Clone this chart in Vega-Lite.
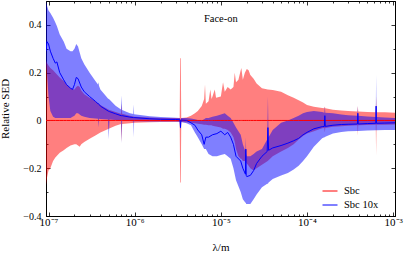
{
"$schema": "https://vega.github.io/schema/vega-lite/v6.json",
"width": 349, "height": 215,
"autosize": {"type": "none"},
"padding": {"left": 46, "top": 1, "right": 12, "bottom": 38},
"config": {
  "view": {"stroke": "black", "strokeWidth": 1},
  "font": "Liberation Serif",
  "axis": {"grid": false, "domainColor": "black", "domainWidth": 1, "tickColor": "black", "tickWidth": 0.8,
           "labelFont": "Liberation Serif", "labelFontSize": 10, "labelColor": "black",
           "titleFont": "Liberation Serif", "titleFontSize": 11, "titleFontWeight": "normal", "titleColor": "black"}
},
"datasets": {
"sed": [
{"s":"Sbc","x":9.35e-8,"lo":-0.27,"m":0,"hi":0.25},
{"s":"Sbc","x":9.6e-8,"lo":-0.24,"m":0,"hi":0.24},
{"s":"Sbc","x":1e-7,"lo":-0.21,"m":0,"hi":0.23},
{"s":"Sbc","x":1.05e-7,"lo":-0.2,"m":0,"hi":0.22},
{"s":"Sbc","x":1.13e-7,"lo":-0.17,"m":0,"hi":0.21},
{"s":"Sbc","x":1.2e-7,"lo":-0.155,"m":0,"hi":0.2},
{"s":"Sbc","x":1.35e-7,"lo":-0.135,"m":0,"hi":0.18},
{"s":"Sbc","x":1.5e-7,"lo":-0.125,"m":0,"hi":0.165},
{"s":"Sbc","x":1.62e-7,"lo":-0.115,"m":0,"hi":0.15},
{"s":"Sbc","x":1.8e-7,"lo":-0.105,"m":0,"hi":0.135},
{"s":"Sbc","x":2e-7,"lo":-0.1,"m":0,"hi":0.13},
{"s":"Sbc","x":2.1e-7,"lo":-0.1,"m":0,"hi":0.14},
{"s":"Sbc","x":2.2e-7,"lo":-0.105,"m":0,"hi":0.145},
{"s":"Sbc","x":2.3e-7,"lo":-0.11,"m":0,"hi":0.14},
{"s":"Sbc","x":2.4e-7,"lo":-0.1,"m":0,"hi":0.125},
{"s":"Sbc","x":2.6e-7,"lo":-0.09,"m":0,"hi":0.11},
{"s":"Sbc","x":3e-7,"lo":-0.077,"m":0,"hi":0.095},
{"s":"Sbc","x":3.5e-7,"lo":-0.063,"m":0,"hi":0.08},
{"s":"Sbc","x":4e-7,"lo":-0.05,"m":0,"hi":0.065},
{"s":"Sbc","x":5e-7,"lo":-0.035,"m":0,"hi":0.045},
{"s":"Sbc","x":6e-7,"lo":-0.022,"m":0,"hi":0.035},
{"s":"Sbc","x":6.95e-7,"lo":-0.015,"m":0,"hi":0.028},
{"s":"Sbc","x":7.05e-7,"lo":-0.09,"m":0,"hi":0.07},
{"s":"Sbc","x":7.15e-7,"lo":-0.015,"m":0,"hi":0.028},
{"s":"Sbc","x":8.8e-7,"lo":-0.012,"m":0,"hi":0.02},
{"s":"Sbc","x":1e-6,"lo":-0.01,"m":0,"hi":0.015},
{"s":"Sbc","x":1.5e-6,"lo":-0.008,"m":0,"hi":0.012},
{"s":"Sbc","x":2e-6,"lo":-0.007,"m":0,"hi":0.01},
{"s":"Sbc","x":3e-6,"lo":-0.006,"m":0,"hi":0.01},
{"s":"Sbc","x":3.33e-6,"lo":-0.006,"m":0,"hi":0.01},
{"s":"Sbc","x":3.37e-6,"lo":-0.26,"m":0,"hi":0.26},
{"s":"Sbc","x":3.43e-6,"lo":-0.26,"m":0,"hi":0.26},
{"s":"Sbc","x":3.47e-6,"lo":-0.006,"m":0,"hi":0.01},
{"s":"Sbc","x":4e-6,"lo":-0.008,"m":0,"hi":0.012},
{"s":"Sbc","x":4.5e-6,"lo":-0.01,"m":0,"hi":0.02},
{"s":"Sbc","x":5e-6,"lo":-0.012,"m":0,"hi":0.03},
{"s":"Sbc","x":5.4e-6,"lo":-0.014,"m":0,"hi":0.04},
{"s":"Sbc","x":6e-6,"lo":-0.016,"m":0,"hi":0.06},
{"s":"Sbc","x":6.4e-6,"lo":-0.018,"m":0,"hi":0.09},
{"s":"Sbc","x":6.55e-6,"lo":-0.018,"m":0,"hi":0.15},
{"s":"Sbc","x":6.7e-6,"lo":-0.018,"m":0,"hi":0.07},
{"s":"Sbc","x":7.2e-6,"lo":-0.02,"m":0,"hi":0.08},
{"s":"Sbc","x":7.55e-6,"lo":-0.02,"m":0,"hi":0.13},
{"s":"Sbc","x":7.8e-6,"lo":-0.02,"m":0,"hi":0.09},
{"s":"Sbc","x":8e-6,"lo":-0.022,"m":0,"hi":0.1},
{"s":"Sbc","x":8.5e-6,"lo":-0.024,"m":0,"hi":0.13},
{"s":"Sbc","x":8.8e-6,"lo":-0.025,"m":0,"hi":0.095},
{"s":"Sbc","x":1e-5,"lo":-0.03,"m":0,"hi":0.1},
{"s":"Sbc","x":1.06e-5,"lo":-0.035,"m":0,"hi":0.16},
{"s":"Sbc","x":1.11e-5,"lo":-0.035,"m":0,"hi":0.12},
{"s":"Sbc","x":1.2e-5,"lo":-0.04,"m":0,"hi":0.14},
{"s":"Sbc","x":1.3e-5,"lo":-0.05,"m":0,"hi":0.13},
{"s":"Sbc","x":1.4e-5,"lo":-0.07,"m":0,"hi":0.14},
{"s":"Sbc","x":1.45e-5,"lo":-0.09,"m":0,"hi":0.2},
{"s":"Sbc","x":1.5e-5,"lo":-0.12,"m":0,"hi":0.16},
{"s":"Sbc","x":1.6e-5,"lo":-0.15,"m":0,"hi":0.17},
{"s":"Sbc","x":1.7e-5,"lo":-0.16,"m":0,"hi":0.21},
{"s":"Sbc","x":1.73e-5,"lo":-0.16,"m":0,"hi":0.22},
{"s":"Sbc","x":1.8e-5,"lo":-0.17,"m":0,"hi":0.17},
{"s":"Sbc","x":1.9e-5,"lo":-0.17,"m":0,"hi":0.2},
{"s":"Sbc","x":2e-5,"lo":-0.18,"m":0,"hi":0.215},
{"s":"Sbc","x":2.1e-5,"lo":-0.19,"m":0,"hi":0.21},
{"s":"Sbc","x":2.2e-5,"lo":-0.2,"m":0,"hi":0.19},
{"s":"Sbc","x":2.4e-5,"lo":-0.21,"m":0,"hi":0.175},
{"s":"Sbc","x":2.6e-5,"lo":-0.2,"m":0,"hi":0.155},
{"s":"Sbc","x":3e-5,"lo":-0.185,"m":0,"hi":0.135},
{"s":"Sbc","x":3.5e-5,"lo":-0.17,"m":0,"hi":0.13},
{"s":"Sbc","x":4e-5,"lo":-0.15,"m":0,"hi":0.127},
{"s":"Sbc","x":5e-5,"lo":-0.13,"m":0,"hi":0.12},
{"s":"Sbc","x":6e-5,"lo":-0.115,"m":0,"hi":0.105},
{"s":"Sbc","x":7e-5,"lo":-0.1,"m":0,"hi":0.095},
{"s":"Sbc","x":8e-5,"lo":-0.08,"m":0,"hi":0.085},
{"s":"Sbc","x":9e-5,"lo":-0.065,"m":0,"hi":0.075},
{"s":"Sbc","x":1e-4,"lo":-0.055,"m":0,"hi":0.065},
{"s":"Sbc","x":1.2e-4,"lo":-0.045,"m":0,"hi":0.057},
{"s":"Sbc","x":1.5e-4,"lo":-0.033,"m":0,"hi":0.052},
{"s":"Sbc","x":1.59e-4,"lo":-0.032,"m":0,"hi":0.051},
{"s":"Sbc","x":1.61e-4,"lo":-0.05,"m":0,"hi":0.058},
{"s":"Sbc","x":1.63e-4,"lo":-0.032,"m":0,"hi":0.051},
{"s":"Sbc","x":2e-4,"lo":-0.026,"m":0,"hi":0.045},
{"s":"Sbc","x":2.5e-4,"lo":-0.024,"m":0,"hi":0.042},
{"s":"Sbc","x":3e-4,"lo":-0.022,"m":0,"hi":0.04},
{"s":"Sbc","x":3.85e-4,"lo":-0.02,"m":0,"hi":0.037},
{"s":"Sbc","x":3.89e-4,"lo":-0.063,"m":0,"hi":0.06},
{"s":"Sbc","x":3.93e-4,"lo":-0.02,"m":0,"hi":0.037},
{"s":"Sbc","x":5e-4,"lo":-0.019,"m":0,"hi":0.035},
{"s":"Sbc","x":6.28e-4,"lo":-0.018,"m":0,"hi":0.034},
{"s":"Sbc","x":6.34e-4,"lo":-0.145,"m":0,"hi":0.1},
{"s":"Sbc","x":6.4e-4,"lo":-0.018,"m":0,"hi":0.034},
{"s":"Sbc","x":8e-4,"lo":-0.018,"m":0,"hi":0.034},
{"s":"Sbc","x":1.05e-3,"lo":-0.017,"m":0,"hi":0.032},
{"s":"Sbc 10x","x":9.35e-8,"lo":0.24,"m":0.29,"hi":0.5},
{"s":"Sbc 10x","x":9.6e-8,"lo":0.2,"m":0.33,"hi":0.48},
{"s":"Sbc 10x","x":1e-7,"lo":0.1,"m":0.32,"hi":0.46},
{"s":"Sbc 10x","x":1.05e-7,"lo":0.04,"m":0.29,"hi":0.45},
{"s":"Sbc 10x","x":1.13e-7,"lo":0.015,"m":0.26,"hi":0.43},
{"s":"Sbc 10x","x":1.2e-7,"lo":0.01,"m":0.24,"hi":0.41},
{"s":"Sbc 10x","x":1.25e-7,"lo":0.01,"m":0.245,"hi":0.395},
{"s":"Sbc 10x","x":1.35e-7,"lo":0.01,"m":0.2,"hi":0.36},
{"s":"Sbc 10x","x":1.5e-7,"lo":0.01,"m":0.17,"hi":0.33},
{"s":"Sbc 10x","x":1.62e-7,"lo":0.01,"m":0.15,"hi":0.3},
{"s":"Sbc 10x","x":1.8e-7,"lo":0.01,"m":0.135,"hi":0.29},
{"s":"Sbc 10x","x":1.9e-7,"lo":0.015,"m":0.13,"hi":0.29},
{"s":"Sbc 10x","x":2e-7,"lo":0.02,"m":0.15,"hi":0.3},
{"s":"Sbc 10x","x":2.1e-7,"lo":0.03,"m":0.18,"hi":0.32},
{"s":"Sbc 10x","x":2.2e-7,"lo":0.03,"m":0.175,"hi":0.31},
{"s":"Sbc 10x","x":2.4e-7,"lo":0.02,"m":0.14,"hi":0.26},
{"s":"Sbc 10x","x":2.6e-7,"lo":0.015,"m":0.12,"hi":0.235},
{"s":"Sbc 10x","x":3e-7,"lo":0.01,"m":0.1,"hi":0.2},
{"s":"Sbc 10x","x":3.5e-7,"lo":0.008,"m":0.08,"hi":0.165},
{"s":"Sbc 10x","x":3.75e-7,"lo":0.007,"m":0.07,"hi":0.15},
{"s":"Sbc 10x","x":3.8e-7,"lo":-0.03,"m":0.07,"hi":0.16},
{"s":"Sbc 10x","x":3.85e-7,"lo":0.007,"m":0.068,"hi":0.145},
{"s":"Sbc 10x","x":4e-7,"lo":0.006,"m":0.06,"hi":0.13},
{"s":"Sbc 10x","x":4.9e-7,"lo":0.004,"m":0.04,"hi":0.092},
{"s":"Sbc 10x","x":5e-7,"lo":-0.08,"m":0.038,"hi":0.09},
{"s":"Sbc 10x","x":5.1e-7,"lo":0.004,"m":0.037,"hi":0.088},
{"s":"Sbc 10x","x":6e-7,"lo":0.002,"m":0.028,"hi":0.062},
{"s":"Sbc 10x","x":6.95e-7,"lo":0,"m":0.02,"hi":0.046},
{"s":"Sbc 10x","x":7.05e-7,"lo":-0.095,"m":0.02,"hi":0.104},
{"s":"Sbc 10x","x":7.15e-7,"lo":0,"m":0.02,"hi":0.044},
{"s":"Sbc 10x","x":8.8e-7,"lo":-0.002,"m":0.014,"hi":0.03},
{"s":"Sbc 10x","x":9.65e-7,"lo":-0.003,"m":0.012,"hi":0.027},
{"s":"Sbc 10x","x":9.75e-7,"lo":-0.07,"m":0.012,"hi":0.067},
{"s":"Sbc 10x","x":9.85e-7,"lo":-0.003,"m":0.012,"hi":0.026},
{"s":"Sbc 10x","x":1.5e-6,"lo":-0.004,"m":0.007,"hi":0.018},
{"s":"Sbc 10x","x":2e-6,"lo":-0.004,"m":0.005,"hi":0.014},
{"s":"Sbc 10x","x":3e-6,"lo":-0.004,"m":0.004,"hi":0.011},
{"s":"Sbc 10x","x":3.35e-6,"lo":-0.005,"m":0.003,"hi":0.01},
{"s":"Sbc 10x","x":3.4e-6,"lo":-0.04,"m":-0.03,"hi":0.0},
{"s":"Sbc 10x","x":3.45e-6,"lo":-0.006,"m":0.002,"hi":0.01},
{"s":"Sbc 10x","x":4e-6,"lo":-0.012,"m":0.0,"hi":0.01},
{"s":"Sbc 10x","x":4.5e-6,"lo":-0.02,"m":-0.01,"hi":0.008},
{"s":"Sbc 10x","x":5e-6,"lo":-0.05,"m":-0.02,"hi":0.005},
{"s":"Sbc 10x","x":5.4e-6,"lo":-0.07,"m":-0.04,"hi":0.002},
{"s":"Sbc 10x","x":6e-6,"lo":-0.1,"m":-0.06,"hi":0.0},
{"s":"Sbc 10x","x":6.4e-6,"lo":-0.12,"m":-0.1,"hi":0.005},
{"s":"Sbc 10x","x":6.7e-6,"lo":-0.12,"m":-0.07,"hi":0.01},
{"s":"Sbc 10x","x":7.2e-6,"lo":-0.14,"m":-0.07,"hi":0.01},
{"s":"Sbc 10x","x":8e-6,"lo":-0.15,"m":-0.06,"hi":0.015},
{"s":"Sbc 10x","x":9e-6,"lo":-0.15,"m":-0.055,"hi":0.02},
{"s":"Sbc 10x","x":1e-5,"lo":-0.145,"m":-0.045,"hi":0.025},
{"s":"Sbc 10x","x":1.11e-5,"lo":-0.14,"m":-0.06,"hi":0.03},
{"s":"Sbc 10x","x":1.2e-5,"lo":-0.15,"m":-0.05,"hi":0.02},
{"s":"Sbc 10x","x":1.3e-5,"lo":-0.16,"m":-0.07,"hi":0.01},
{"s":"Sbc 10x","x":1.4e-5,"lo":-0.2,"m":-0.1,"hi":-0.01},
{"s":"Sbc 10x","x":1.5e-5,"lo":-0.25,"m":-0.15,"hi":-0.03},
{"s":"Sbc 10x","x":1.7e-5,"lo":-0.3,"m":-0.17,"hi":-0.06},
{"s":"Sbc 10x","x":1.8e-5,"lo":-0.33,"m":-0.2,"hi":-0.1},
{"s":"Sbc 10x","x":1.93e-5,"lo":-0.345,"m":-0.225,"hi":-0.13},
{"s":"Sbc 10x","x":1.95e-5,"lo":-0.345,"m":-0.12,"hi":-0.07},
{"s":"Sbc 10x","x":1.97e-5,"lo":-0.35,"m":-0.23,"hi":-0.14},
{"s":"Sbc 10x","x":2e-5,"lo":-0.35,"m":-0.235,"hi":-0.15},
{"s":"Sbc 10x","x":2.2e-5,"lo":-0.35,"m":-0.23,"hi":-0.15},
{"s":"Sbc 10x","x":2.4e-5,"lo":-0.33,"m":-0.21,"hi":-0.14},
{"s":"Sbc 10x","x":2.6e-5,"lo":-0.31,"m":-0.18,"hi":-0.13},
{"s":"Sbc 10x","x":3e-5,"lo":-0.28,"m":-0.15,"hi":-0.12},
{"s":"Sbc 10x","x":3.45e-5,"lo":-0.265,"m":-0.13,"hi":-0.08},
{"s":"Sbc 10x","x":3.52e-5,"lo":-0.265,"m":-0.03,"hi":0.1},
{"s":"Sbc 10x","x":3.58e-5,"lo":-0.26,"m":-0.125,"hi":-0.07},
{"s":"Sbc 10x","x":4e-5,"lo":-0.245,"m":-0.115,"hi":-0.04},
{"s":"Sbc 10x","x":5e-5,"lo":-0.23,"m":-0.105,"hi":-0.01},
{"s":"Sbc 10x","x":6e-5,"lo":-0.22,"m":-0.095,"hi":0.0},
{"s":"Sbc 10x","x":7e-5,"lo":-0.205,"m":-0.085,"hi":0.01},
{"s":"Sbc 10x","x":8e-5,"lo":-0.19,"m":-0.075,"hi":0.02},
{"s":"Sbc 10x","x":9e-5,"lo":-0.17,"m":-0.06,"hi":0.03},
{"s":"Sbc 10x","x":1e-4,"lo":-0.15,"m":-0.05,"hi":0.035},
{"s":"Sbc 10x","x":1.2e-4,"lo":-0.11,"m":-0.035,"hi":0.04},
{"s":"Sbc 10x","x":1.5e-4,"lo":-0.075,"m":-0.026,"hi":0.035},
{"s":"Sbc 10x","x":1.59e-4,"lo":-0.07,"m":-0.025,"hi":0.032},
{"s":"Sbc 10x","x":1.61e-4,"lo":-0.07,"m":0.02,"hi":0.058},
{"s":"Sbc 10x","x":1.63e-4,"lo":-0.068,"m":-0.025,"hi":0.032},
{"s":"Sbc 10x","x":2e-4,"lo":-0.055,"m":-0.02,"hi":0.03},
{"s":"Sbc 10x","x":2.5e-4,"lo":-0.048,"m":-0.017,"hi":0.025},
{"s":"Sbc 10x","x":3e-4,"lo":-0.045,"m":-0.016,"hi":0.022},
{"s":"Sbc 10x","x":3.85e-4,"lo":-0.044,"m":-0.015,"hi":0.02},
{"s":"Sbc 10x","x":3.89e-4,"lo":-0.044,"m":0.03,"hi":0.06},
{"s":"Sbc 10x","x":3.93e-4,"lo":-0.044,"m":-0.015,"hi":0.02},
{"s":"Sbc 10x","x":5e-4,"lo":-0.042,"m":-0.013,"hi":0.016},
{"s":"Sbc 10x","x":6.28e-4,"lo":-0.041,"m":-0.012,"hi":0.014},
{"s":"Sbc 10x","x":6.34e-4,"lo":-0.041,"m":0.06,"hi":0.19},
{"s":"Sbc 10x","x":6.4e-4,"lo":-0.041,"m":-0.012,"hi":0.014},
{"s":"Sbc 10x","x":8e-4,"lo":-0.04,"m":-0.011,"hi":0.012},
{"s":"Sbc 10x","x":1.05e-3,"lo":-0.04,"m":-0.01,"hi":0.01}
],
"note": [{"label": "Face-on", "x": 1e-5, "y": 0.425}]
},
"layer": [
{
  "data": {"name": "sed"},
  "transform": [{"filter": "datum.s == 'Sbc'"}],
  "mark": {"type": "area", "color": "#ff0000", "opacity": 0.5, "clip": true},
  "encoding": {
    "x": {"field": "x", "type": "quantitative",
          "scale": {"type": "log", "domain": [9.35e-8, 1.05e-3], "nice": false},
          "axis": {"orient": "bottom", "title": "λ/m", "titleY": 34, "titleBaseline": "alphabetic",
                   "values": [1e-7,2e-7,3e-7,4e-7,5e-7,6e-7,7e-7,8e-7,9e-7,1e-6,2e-6,3e-6,4e-6,5e-6,6e-6,7e-6,8e-6,9e-6,1e-5,2e-5,3e-5,4e-5,5e-5,6e-5,7e-5,8e-5,9e-5,1e-4,2e-4,3e-4,4e-4,5e-4,6e-4,7e-4,8e-4,9e-4,1e-3],
                   "labelExpr": "abs(log(datum.value)/LN10 - round(log(datum.value)/LN10)) > 0.01 ? '' : '10⁻' + ['⁰','¹','²','³','⁴','⁵','⁶','⁷','⁸','⁹'][-round(log(datum.value)/LN10)]",
                   "tickSize": {"condition": {"test": "abs(log(datum.value)/LN10 - round(log(datum.value)/LN10)) < 0.01", "value": -4}, "value": -2},
                   "labelFontSize": 11, "labelPadding": 4, "labelFlush": false, "labelOverlap": false}},
    "y": {"field": "hi", "type": "quantitative",
          "scale": {"domain": [-0.4, 0.5], "nice": false, "zero": false},
          "axis": {"orient": "left", "title": "Relative SED", "titleX": -37.5, "titleBaseline": "alphabetic",
                   "values": [-0.4,-0.3,-0.2,-0.1,0,0.1,0.2,0.3,0.4],
                   "labelExpr": "abs(round(datum.value*10)) % 2 == 1 ? '' : (datum.value == 0 ? '0' : replace(format(datum.value, '.1f'), '-', '−'))",
                   "tickSize": {"condition": {"test": "abs(round(datum.value*10)) % 2 == 0", "value": -4}, "value": -2},
                   "labelPadding": 9, "labelOverlap": false, "labelFlush": false}},
    "y2": {"field": "lo"}
  }
},
{
  "data": {"name": "sed"},
  "transform": [{"filter": "datum.s == 'Sbc 10x'"}],
  "mark": {"type": "area", "color": "#0000ff", "opacity": 0.5, "clip": true},
  "encoding": {
    "x": {"field": "x", "type": "quantitative",
          "axis": {"orient": "top", "title": null, "labels": false,
                   "values": [1e-7,2e-7,3e-7,4e-7,5e-7,6e-7,7e-7,8e-7,9e-7,1e-6,2e-6,3e-6,4e-6,5e-6,6e-6,7e-6,8e-6,9e-6,1e-5,2e-5,3e-5,4e-5,5e-5,6e-5,7e-5,8e-5,9e-5,1e-4,2e-4,3e-4,4e-4,5e-4,6e-4,7e-4,8e-4,9e-4,1e-3],
                   "tickSize": {"condition": {"test": "abs(log(datum.value)/LN10 - round(log(datum.value)/LN10)) < 0.01", "value": -4}, "value": -2}}},
    "y": {"field": "hi", "type": "quantitative",
          "axis": {"orient": "right", "title": null, "labels": false,
                   "values": [-0.4,-0.3,-0.2,-0.1,0,0.1,0.2,0.3,0.4],
                   "tickSize": {"condition": {"test": "abs(round(datum.value*10)) % 2 == 0", "value": -4}, "value": -2}}},
    "y2": {"field": "lo"}
  }
},
{
  "data": {"name": "sed"},
  "mark": {"type": "line", "strokeWidth": 1, "clip": true},
  "encoding": {
    "x": {"field": "x", "type": "quantitative", "axis": null},
    "y": {"field": "m", "type": "quantitative", "axis": null},
    "color": {"field": "s", "type": "nominal",
              "scale": {"domain": ["Sbc", "Sbc 10x"], "range": ["#ff0000", "#0000ff"]},
              "legend": {"orient": "none", "legendX": 276, "legendY": 182, "title": null, "padding": 0,
                         "symbolType": "stroke", "symbolSize": 225, "symbolStrokeWidth": 1,
                         "labelFont": "Liberation Serif", "labelFontSize": 10.5, "labelColor": "black",
                         "labelOffset": 6, "rowPadding": 0}}
  }
},
{
  "data": {"name": "note"},
  "mark": {"type": "text", "font": "Liberation Serif", "fontSize": 10.5, "color": "black", "baseline": "middle", "align": "center"},
  "encoding": {
    "x": {"field": "x", "type": "quantitative", "axis": null},
    "y": {"field": "y", "type": "quantitative", "axis": null},
    "text": {"field": "label"}
  }
}
],
"resolve": {"axis": {"x": "independent", "y": "independent"}}
}
